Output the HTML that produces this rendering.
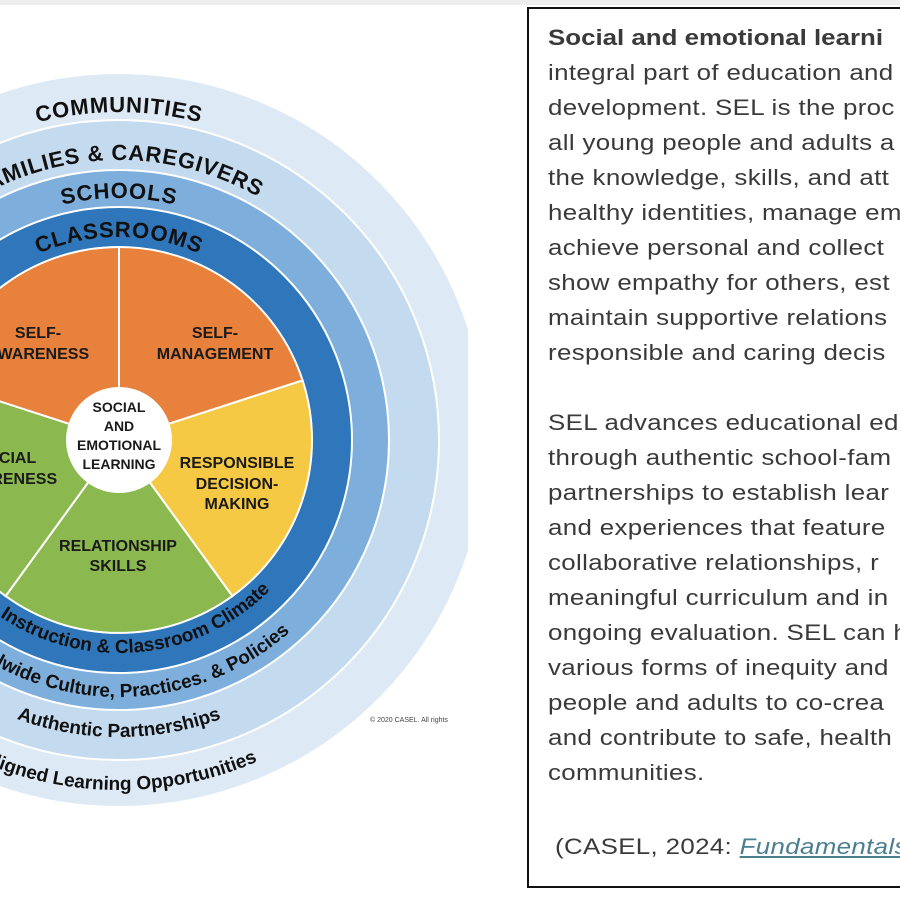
<!DOCTYPE html>
<html><head><meta charset="utf-8">
<style>
html,body{margin:0;padding:0;background:#fff;width:900px;height:900px;overflow:hidden;position:relative;font-family:"Liberation Sans",sans-serif}
#box{position:absolute;left:527px;top:7px;width:373px;height:881px;border:2px solid #111;border-right:none;box-sizing:border-box}
#txt{position:absolute;left:0;top:0;width:900px;height:900px;overflow:hidden}
.ln{position:absolute;left:548px;font-size:22.5px;letter-spacing:0.3px;color:#3a3a3a;white-space:nowrap;line-height:22px;transform:scaleX(1.15);transform-origin:0 0}
</style></head><body>
<div style="position:absolute;left:0;top:0;width:900px;height:5px;background:#eeeeee"></div>
<svg width="470" height="900" style="position:absolute;left:0;top:0" font-family="Liberation Sans, sans-serif">
<defs>
<clipPath id="c"><rect x="0" y="0" width="468" height="900"/></clipPath>
<path id="t1" d="M -209 440 A 328 328 0 0 1 447 440"/>
<path id="t2" d="M -161 440 A 280 280 0 0 1 399 440"/>
<path id="t3" d="M -123 440 A 242 242 0 0 1 361 440"/>
<path id="t4" d="M -84 440 A 203 203 0 0 1 322 440"/>
<path id="b1" d="M -231 440 A 350 350 0 0 0 469 440"/>
<path id="b2" d="M -178 440 A 297 297 0 0 0 416 440"/>
<path id="b3" d="M -138 440 A 257 257 0 0 0 376 440"/>
<path id="b4" d="M -94 440 A 213 213 0 0 0 332 440"/>
</defs>
<g clip-path="url(#c)">
<circle cx="119" cy="440" r="366" fill="#dde9f4"/>
<circle cx="119" cy="440" r="320" fill="#c4daee" stroke="#fff" stroke-width="2"/>
<circle cx="119" cy="440" r="270" fill="#7eafdc" stroke="#fff" stroke-width="2"/>
<circle cx="119" cy="440" r="233" fill="#2f76ba" stroke="#fff" stroke-width="2"/>
</g>
<g stroke="#fff" stroke-width="2">
<path d="M119 440 L119 247 A193 193 0 0 1 302.6 380.4 Z" fill="#e8813b"/>
<path d="M119 440 L302.6 380.4 A193 193 0 0 1 232.4 596.1 Z" fill="#f6c944"/>
<path d="M119 440 L232.4 596.1 A193 193 0 0 1 5.6 596.1 Z" fill="#8cb94f"/>
<path d="M119 440 L5.6 596.1 A193 193 0 0 1 -64.6 380.4 Z" fill="#8cb94f"/>
<path d="M119 440 L-64.6 380.4 A193 193 0 0 1 119 247 Z" fill="#e8813b"/>
</g>
<circle cx="119" cy="440" r="53" fill="#fff"/>
<g font-weight="bold" fill="#1a1a1a" text-anchor="middle" font-size="16">
<text x="215" y="338">SELF-</text><text x="215" y="359">MANAGEMENT</text>
<text x="38" y="338">SELF-</text><text x="38" y="359">AWARENESS</text>
<text x="237" y="468">RESPONSIBLE</text><text x="237" y="489">DECISION-</text><text x="237" y="509">MAKING</text>
<text x="118" y="551">RELATIONSHIP</text><text x="118" y="571">SKILLS</text>
<text x="6" y="463">SOCIAL</text><text x="6" y="484">AWARENESS</text>
<g font-size="14"><text x="119" y="412">SOCIAL</text><text x="119" y="431">AND</text><text x="119" y="450">EMOTIONAL</text><text x="119" y="469">LEARNING</text></g>
</g>
<g font-weight="bold" fill="#111" text-anchor="middle">
<text font-size="22" letter-spacing="0.8"><textPath href="#t1" startOffset="50%">COMMUNITIES</textPath></text>
<text font-size="22" letter-spacing="0.8"><textPath href="#t2" startOffset="50%">FAMILIES &amp; CAREGIVERS</textPath></text>
<text font-size="22" letter-spacing="0.8"><textPath href="#t3" startOffset="50%">SCHOOLS</textPath></text>
<text font-size="22" letter-spacing="0.8"><textPath href="#t4" startOffset="50%">CLASSROOMS</textPath></text>
<text font-size="19"><textPath href="#b1" startOffset="50%">Aligned Learning Opportunities</textPath></text>
<text font-size="19"><textPath href="#b2" startOffset="50%">Authentic Partnerships</textPath></text>
<text font-size="19"><textPath href="#b3" startOffset="50%">Schoolwide Culture, Practices. &amp; Policies</textPath></text>
<text font-size="19"><textPath href="#b4" startOffset="50%">SEL Instruction &amp; Classroom Climate</textPath></text>
</g>
<text x="370" y="722" font-size="7" fill="#444">© 2020 CASEL. All rights</text>
</svg>
<div id="box"></div>
<div id="txt">
<div class="ln" style="top:27px;font-weight:bold;letter-spacing:0px">Social and emotional learni</div>
<div class="ln" style="top:62px">integral part of education and</div>
<div class="ln" style="top:97px">development. SEL is the proc</div>
<div class="ln" style="top:132px">all young people and adults a</div>
<div class="ln" style="top:167px">the knowledge, skills, and att</div>
<div class="ln" style="top:202px">healthy identities, manage em</div>
<div class="ln" style="top:237px">achieve personal and collect</div>
<div class="ln" style="top:272px">show empathy for others, est</div>
<div class="ln" style="top:307px">maintain supportive relations</div>
<div class="ln" style="top:342px">responsible and caring decis</div>
<div class="ln" style="top:412px">SEL advances educational ed</div>
<div class="ln" style="top:447px">through authentic school-fam</div>
<div class="ln" style="top:482px">partnerships to establish lear</div>
<div class="ln" style="top:517px">and experiences that feature</div>
<div class="ln" style="top:552px">collaborative relationships, r</div>
<div class="ln" style="top:587px">meaningful curriculum and in</div>
<div class="ln" style="top:622px">ongoing evaluation. SEL can h</div>
<div class="ln" style="top:657px">various forms of inequity and</div>
<div class="ln" style="top:692px">people and adults to co-crea</div>
<div class="ln" style="top:727px">and contribute to safe, health</div>
<div class="ln" style="top:762px">communities.</div>
<div class="ln" style="top:836px;left:555px">(CASEL, 2024: <span style="font-style:italic;color:#4a7f8f;text-decoration:underline">Fundamentals</span></div>
</div>
</body></html>
